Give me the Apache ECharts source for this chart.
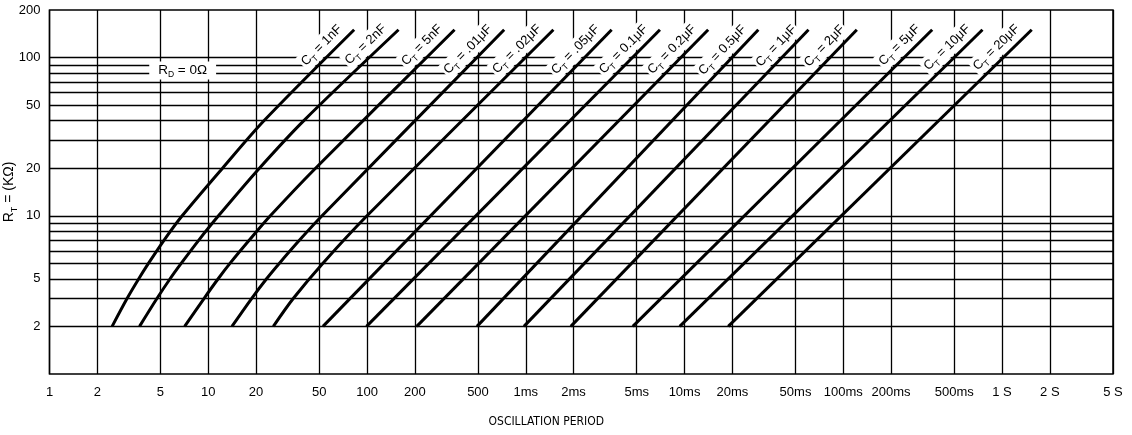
<!DOCTYPE html>
<html><head><meta charset="utf-8">
<script src="https://cdn.jsdelivr.net/npm/echarts@6/dist/echarts.min.js"></script>
<style>html,body{margin:0;padding:0;background:#fff}#c{width:1132px;height:435px}</style>
</head><body><div id="c"></div>
<script>
// ---- axis ticks ----
const xTickValues = [1,2,5,10,20,50,100,200,500,1e3,2e3,5e3,1e4,2e4,5e4,1e5,2e5,5e5,1e6,2e6,5e6];
const xTickLabels = ['1','2','5','10','20','50','100','200','500','1ms','2ms','5ms','10ms','20ms','50ms','100ms','200ms','500ms','1 S','2 S','5 S'];
const yGridValues = [2,3,4,5,6,7,8,9,10,20,30,40,50,60,70,80,90,100];
const yLabelValues = [2,4,10,20,50,100,200];
const yLabelTexts = ['2','5','10','20','50','100','200'];

// ---- curves: [period (µs), R_T (kΩ)] ----
const ct1nF  = [[2.48,2],[3.08,3],[3.65,4],[4.2,5],[5.26,7],[6.85,10],[12.3,20],[22.5,40],[83,150]];
const ct2nF  = [[3.69,2],[4.75,3],[5.75,4],[6.75,5],[8.7,7],[11.6,10],[21,20],[40,40],[158,150]];
const ct5nF  = [[7.1,2],[9.4,3],[11.55,4],[13.7,5],[18.1,7],[24.6,10],[47.4,20],[356,150]];
const ct10nF = [[14.1,2],[18.75,3],[23.3,4],[28,5],[37.5,7],[52.1,10],[731,150]];
const ct20nF = [[25.7,2],[34.3,3],[52.6,5],[100,10],[1493,150]];
const ct50nF = [[52.8,2],[3475,150]];
const ct100nF= [[99.3,2],[7000,150]];
const ct200nF= [[205.7,2],[14090,150]];
const ct500nF= [[493,2],[29170,150]];
const ct1uF  = [[974,2],[60400,150]];
const ct2uF  = [[1922,2],[121700,150]];
const ct5uF  = [[4725,2],[363000,150]];
const ct10uF = [[9330,2],[753000,150]];
const ct20uF = [[18850,2],[1538000,150]];
const curveNames = ['1nF','2nF','5nF','.01μF','.02μF','.05μF','0.1μF','0.2μF','0.5μF','1μF','2μF','5μF','10μF','20μF'];
const curves = [ct1nF,ct2nF,ct5nF,ct10nF,ct20nF,ct50nF,ct100nF,ct200nF,ct500nF,ct1uF,ct2uF,ct5uF,ct10uF,ct20uF];
const rdLabelAt = [6.9, 83];

const FONT = '"Liberation Sans", Arial, Helvetica, sans-serif';
const NARROW = '"Liberation Sans Narrow", "DejaVu Sans Condensed", "Liberation Sans", sans-serif';
function lookup(v, vals, texts){
  for (let i=0;i<vals.length;i++){ if (Math.abs(Math.log10(v)-Math.log10(vals[i]))<1e-6) return texts[i]; }
  return '';
}
const chart = echarts.init(document.getElementById('c'));
const series = curves.map((d,i)=>({
  type:'line', data:d, symbol:'none', showSymbol:false, smooth: i<5 ? 0.3 : false,
  lineStyle:{color:'#000', width:3}, silent:true, z:3
}));
chart.setOption({
  animation:false,
  backgroundColor:'#fff',
  grid:{left:49.5, right:19, top:10, bottom:61, containLabel:false, outerBoundsMode:'none',
        show:true, borderColor:'#000', borderWidth:1.5},
  xAxis:{
    type:'log', logBase:10, min:1, max:5e6,
    axisLine:{show:false},
    axisTick:{show:false, customValues:xTickValues},
    axisLabel:{customValues:xTickValues, color:'#000', fontFamily:FONT, fontSize:13, margin:12,
      formatter:v=>lookup(v,xTickValues,xTickLabels)},
    splitLine:{show:true, lineStyle:{color:'#000', width:1.3}},
    name:'OSCILLATION PERIOD', nameLocation:'middle', nameGap:42, nameMoveOverlap:false,
    nameTextStyle:{color:'#000', fontFamily:NARROW, fontSize:12, padding:[0,70,0,0]}
  },
  yAxis:{
    type:'log', logBase:10, min:1, max:200,
    axisLine:{show:false},
    axisTick:{show:false, customValues:yGridValues},
    axisLabel:{customValues:yLabelValues, color:'#000', fontFamily:FONT, fontSize:13, margin:9,
      formatter:v=>lookup(v,yLabelValues,yLabelTexts)},
    splitLine:{show:true, lineStyle:{color:'#000', width:1.3}},
    name:'{a|R}{b|T}{a| = (KΩ)}', nameLocation:'middle', nameGap:30, nameRotate:90, nameMoveOverlap:false,
    nameTextStyle:{color:'#000', fontFamily:FONT, fontSize:14,
      rich:{a:{fontFamily:FONT,fontSize:14,color:'#000',lineHeight:18},b:{fontFamily:FONT,fontSize:9,color:'#000',lineHeight:21,verticalAlign:'bottom'}}}
  },
  series:series
});

// labels along each curve, positioned through the chart's own scales
const gfx = [];
curves.forEach((d,i)=>{
  const n = d.length;
  const p1 = chart.convertToPixel({seriesIndex:i}, d[n-1]);
  const p0 = chart.convertToPixel({seriesIndex:i}, d[n-2]);
  const ang = Math.atan2(p0[1]-p1[1], p1[0]-p0[0]);
  gfx.push({
    type:'text', x:p1[0], y:p1[1], rotation:ang, z:1, silent:true,
    style:{
      text:'{a|C}{b|T}{a| = '+curveNames[i]+'}', x:-6, y:-2.5, align:'right', verticalAlign:'bottom',
      backgroundColor:'#fff', padding:[0,2,0,2],
      rich:{a:{fontFamily:FONT,fontSize:13,fill:'#000',lineHeight:16},b:{fontFamily:FONT,fontSize:8.5,fill:'#000',lineHeight:19,verticalAlign:'bottom'}}
    }
  });
});
const rp = chart.convertToPixel({seriesIndex:0}, rdLabelAt);
gfx.push({
  type:'text', x:rp[0], y:rp[1], z:1, silent:true,
  style:{text:'{a|R}{b|D}{a| = 0Ω}', align:'center', verticalAlign:'middle', backgroundColor:'#fff', padding:[0,9,0,9],
    rich:{a:{fontFamily:FONT,fontSize:13.5,fill:'#000',lineHeight:15},b:{fontFamily:FONT,fontSize:8.5,fill:'#000',lineHeight:18,verticalAlign:'bottom'}}}
});
chart.setOption({graphic:gfx});
</script></body></html>
